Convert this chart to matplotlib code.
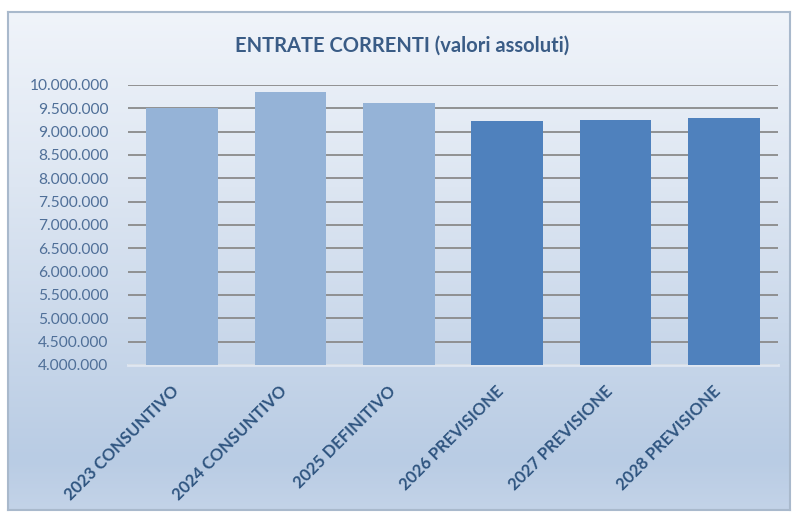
import matplotlib
matplotlib.use("Agg")
import matplotlib.pyplot as plt
import numpy as np
from matplotlib.colors import LinearSegmentedColormap
from matplotlib.ticker import FuncFormatter, MultipleLocator

categories = ["2023 CONSUNTIVO", "2024 CONSUNTIVO", "2025 DEFINITIVO",
              "2026 PREVISIONE", "2027 PREVISIONE", "2028 PREVISIONE"]
values = [9500000, 9840000, 9610000, 9220000, 9250000, 9290000]
bar_colors = ["#95b3d7", "#95b3d7", "#95b3d7", "#4f81bd", "#4f81bd", "#4f81bd"]
title = "ENTRATE CORRENTI (valori assoluti)"

plt.rcParams['font.family'] = ['Lato', 'DejaVu Sans']

W, H = 796, 518
fig = plt.figure(figsize=(W / 100, H / 100), dpi=100)
fig.patch.set_facecolor("white")

# background panel with gradient
bx0, by0, bx1, by1 = 8, 12, 790, 510
bg = fig.add_axes([bx0 / W, 1 - by1 / H, (bx1 - bx0) / W, (by1 - by0) / H])
cmap = LinearSegmentedColormap.from_list(
    "bg", [(0.0, "#f0f4fa"), (0.35, "#dde6f2"), (0.9, "#b9cce4"), (1.0, "#c3d3e8")])
grad = np.linspace(0, 1, 256).reshape(-1, 1)
bg.imshow(grad, aspect="auto", cmap=cmap, extent=[0, 1, 0, 1], origin="upper")
bg.set_xlim(0, 1)
bg.set_ylim(0, 1)
bg.set_xticks([])
bg.set_yticks([])
for s in bg.spines.values():
    s.set_color("#a9b9cc")
    s.set_linewidth(1.5)
bg.set_zorder(0)

# main axes
ax_l, ax_r, ax_t, ax_b = 128, 778, 85, 365
ax = fig.add_axes([ax_l / W, 1 - ax_b / H, (ax_r - ax_l) / W, (ax_b - ax_t) / H])
ax.set_facecolor("none")
ax.set_zorder(1)

x = np.arange(len(categories))
ax.bar(x, values, width=0.66, color=bar_colors, zorder=3)
ax.set_xlim(-0.5, len(categories) - 0.5)
ax.set_ylim(4000000, 10000000)
ax.yaxis.set_major_locator(MultipleLocator(500000))
ax.yaxis.set_major_formatter(FuncFormatter(lambda v, p: f"{int(v):,}".replace(",", ".")))
ax.grid(axis="y", color="#8a8a8a", linewidth=1.3, zorder=1)
ax.set_axisbelow(True)
for s in ["top", "right", "left"]:
    ax.spines[s].set_visible(False)
ax.spines["bottom"].set_color("#dfe7f1")
ax.spines["bottom"].set_linewidth(2)
ax.spines["bottom"].set_zorder(2)

ax.tick_params(axis="y", length=0, pad=14, labelsize=11.2, labelcolor="#4f6f98")
ax.set_xticks(x)
ax.set_xticklabels(categories, rotation=45, ha="right", va="top",
                   fontsize=12, fontweight="bold", color="#2f5580")
ax.tick_params(axis="x", length=0, pad=13)

fig.text(402 / W, 1 - 46 / H, title, ha="center", va="center",
         fontsize=14.5, fontweight="bold", color="#3a5c86")

fig.savefig("out.png", dpi=100)
